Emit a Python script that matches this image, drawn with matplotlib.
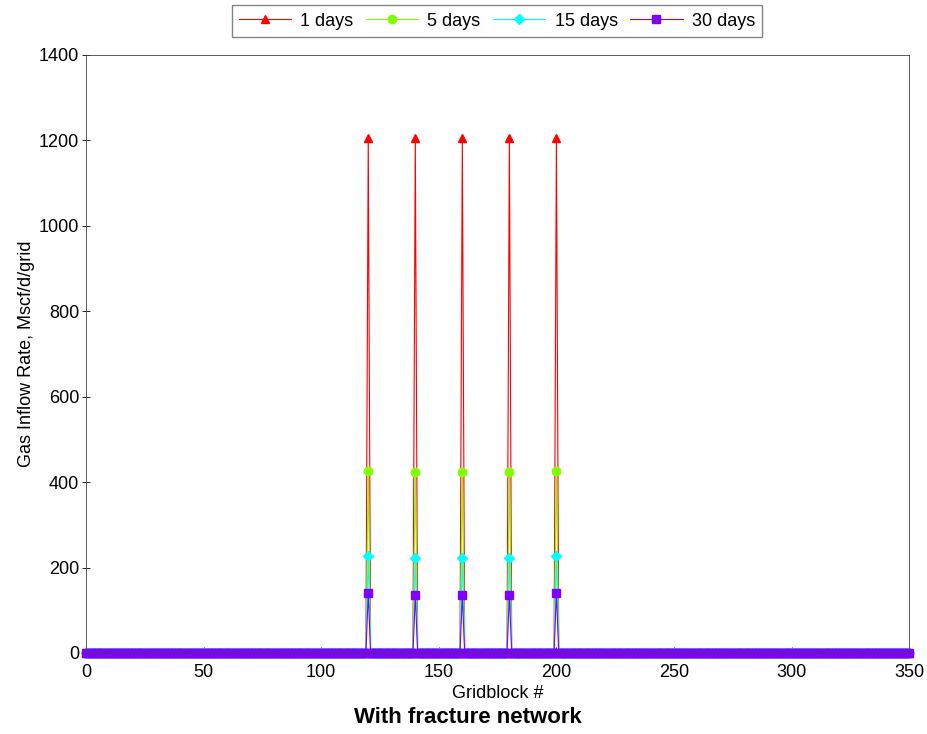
import numpy as np
import matplotlib.pyplot as plt

plt.rcParams['font.family'] = ['Liberation Sans', 'DejaVu Sans']

# gridblock numbers and the fracture blocks where gas flows in
gridblocks = np.arange(0, 351)
fracture_blocks = [120, 140, 160, 180, 200]

# inflow rate at the fracture blocks (Mscf/d/grid), zero elsewhere
rate_1d = [1205, 1205, 1205, 1205, 1205]
rate_5d = [425, 423, 423, 423, 425]
rate_15d = [228, 222, 222, 222, 228]
rate_30d = [140, 135, 135, 135, 140]

labels = ['1 days', '5 days', '15 days', '30 days']
colors = ['#ff0000', '#80ff00', '#00ffff', '#8000ff']
markers = ['^', 'o', 'D', 's']
msizes = [6, 6, 5, 6]


def full_series(vals):
    y = np.zeros(len(gridblocks))
    for b, v in zip(fracture_blocks, vals):
        y[gridblocks == b] = v
    return y


fig = plt.figure(figsize=(9.27, 7.34), dpi=100)
ax = fig.add_axes([0.0928, 0.1104, 0.888, 0.815])

for vals, lab, c, m, ms in zip([rate_1d, rate_5d, rate_15d, rate_30d],
                               labels, colors, markers, msizes):
    ax.plot(gridblocks, full_series(vals), color=c, marker=m, markersize=ms,
            linewidth=0.8, label=lab, clip_on=False)

ax.set_xlim(0, 350)
ax.set_ylim(0, 1400)
ax.set_xticks(np.arange(0, 351, 50))
ax.set_yticks(np.arange(0, 1401, 200))
ax.tick_params(axis='x', direction='in', labelsize=13, length=4, width=0.6, pad=8)
ax.tick_params(axis='y', direction='inout', labelsize=13, length=6, width=0.6, pad=2)
for s in ax.spines.values():
    s.set_linewidth(0.6)
    s.set_color('#444444')

ax.set_xlabel('Gridblock #', fontsize=13, labelpad=3)
ax.set_ylabel('Gas Inflow Rate, Mscf/d/grid', fontsize=13, labelpad=3)
fig.text(0.505, 0.023, 'With fracture network', ha='center', va='center',
         fontsize=16, fontweight='bold')

leg = fig.legend(loc='upper center', bbox_to_anchor=(0.536, 1.0), ncol=4,
                 fontsize=13, frameon=True, fancybox=False, edgecolor='#666666',
                 handlelength=2.9, handletextpad=0.5, columnspacing=0.7,
                 borderpad=0.4, borderaxespad=0.3)
leg.get_frame().set_linewidth(1.0)

plt.savefig('out.png', dpi=100)
